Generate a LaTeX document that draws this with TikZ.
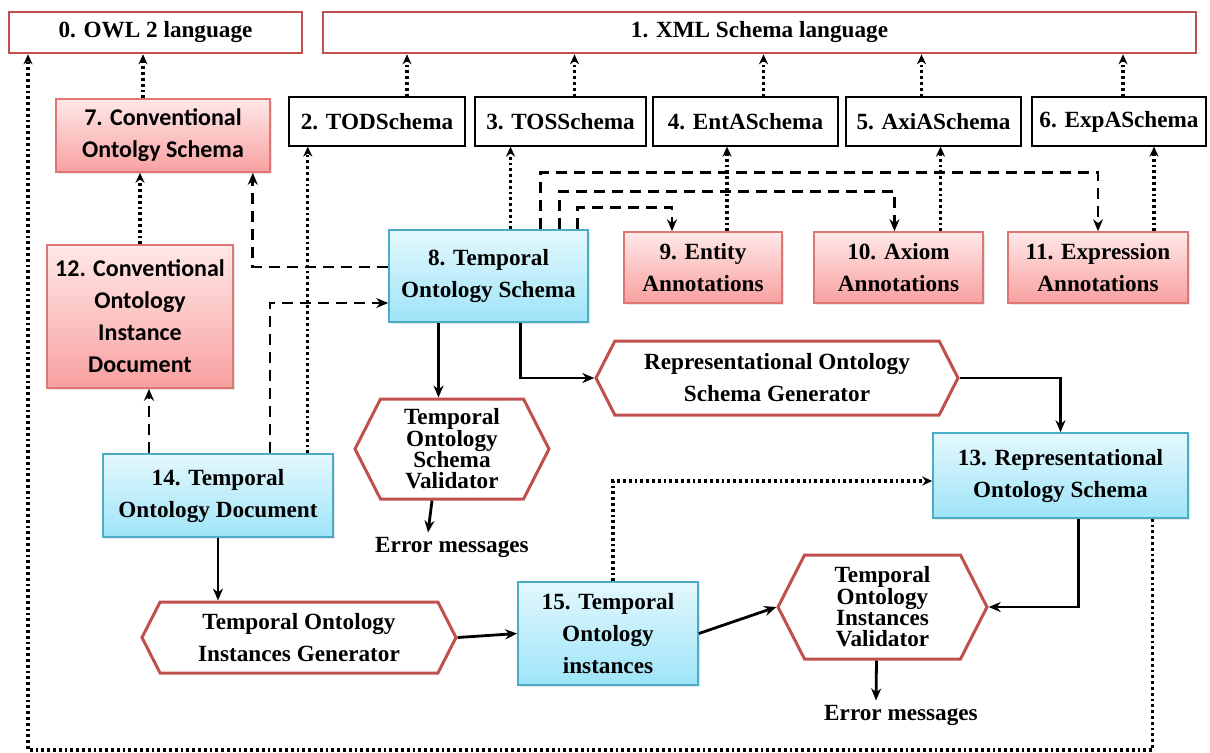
\documentclass[tikz,border=0pt]{standalone}
\usepackage{fontspec}
\setmainfont{Liberation Serif}
\newfontfamily\calibfont{Carlito}
\usetikzlibrary{arrows.meta,shapes.symbols,shadows}

\definecolor{owlred}{RGB}{192,80,77}
\definecolor{pinkline}{RGB}{222,118,116}
\definecolor{pinktop}{RGB}{255,232,232}
\definecolor{pinkbot}{RGB}{248,160,160}
\definecolor{bluetop}{RGB}{228,248,253}
\definecolor{bluebot}{RGB}{158,228,248}
\definecolor{blueline}{RGB}{75,172,198}

\begin{document}
\begin{tikzpicture}[x=0.5pt, y=-0.5pt,
  every node/.style = {font=\fontsize{11.6}{16}\selectfont\bfseries, align=center, inner sep=2pt},
  langbox/.style = {draw=owlred, line width=1.3pt, fill=white, minimum height=20.5pt},
  xsdbox/.style = {draw=black, line width=0.6pt, fill=white, minimum height=24.5pt},
  pinkbox/.style = {draw=pinkline, line width=0.8pt, top color=pinktop, bottom color=pinkbot,
    drop shadow={opacity=0.2, shadow xshift=1.2pt, shadow yshift=-1.2pt}},
  bluebox/.style = {draw=blueline, line width=0.8pt, top color=bluetop, bottom color=bluebot,
    drop shadow={opacity=0.2, shadow xshift=1.2pt, shadow yshift=-1.2pt}},
  calib/.style = {font=\calibfont\fontsize{12}{16}\selectfont\bfseries},
  hexbox/.style = {signal, signal to=east and west, signal pointer angle=126,
    draw=owlred, line width=1.5pt, fill=white},
  dotarrow/.style = {dash pattern=on 1.4pt off 1.5pt, line width=1.6pt, -{Stealth[length=5pt,width=4.5pt]}},
  dasharrow/.style = {dash pattern=on 5.5pt off 3.5pt, line width=1.4pt, -{Stealth[length=6pt,width=5pt]}},
  solidarrow/.style = {line width=1.4pt, -{Stealth[length=6pt,width=5pt]}}]

\useasboundingbox (0,0) rectangle (1210,752);

% languages
\node[langbox, minimum width=146.5pt] (b0) at (155.5,32.5) {0. OWL 2 language};
\node[langbox, minimum width=436.5pt] (b1) at (759.5,32.5) {1. XML Schema language};

% schemas
\node[xsdbox, minimum width=88pt] (b2) at (377,121.5) {2. TODSchema};
\node[xsdbox, minimum width=85.5pt] (b3) at (560.5,121.5) {3. TOSSchema};
\node[xsdbox, minimum width=92.5pt] (b4) at (745.5,121.5) {4. EntASchema};
\node[xsdbox, minimum width=87.5pt] (b5) at (933.5,121.5) {5. AxiASchema};
\node[xsdbox, minimum width=87pt] (b6) at (1119,121.5) {6. ExpASchema};

% documents
\node[pinkbox, calib, minimum width=107pt, minimum height=36.5pt] (b7) at (163,135.5)
  {7. Conventional\\Ontolgy Schema};
\node[pinkbox, calib, minimum width=93pt, minimum height=71.5pt] (b12) at (140,316.5)
  {12. Conventional\\Ontology\\Instance\\Document};
\node[bluebox, minimum width=99.5pt, minimum height=46pt] (b8) at (488.5,276)
  {8. Temporal\\Ontology Schema};
\node[pinkbox, minimum width=79pt, minimum height=35.5pt] (b9) at (703,267.5)
  {9. Entity\\Annotations};
\node[pinkbox, minimum width=84.5pt, minimum height=35.5pt] (b10) at (898.5,267.5)
  {10. Axiom\\Annotations};
\node[pinkbox, minimum width=90pt, minimum height=35.5pt] (b11) at (1098,267.5)
  {11. Expression\\Annotations};
\node[bluebox, minimum width=127.5pt, minimum height=42.5pt] (b13) at (1060.5,475.5)
  {13. Representational\\Ontology Schema};
\node[bluebox, minimum width=115pt, minimum height=41.5pt] (b14) at (218,495.5)
  {14. Temporal\\Ontology Document};
\node[bluebox, minimum width=90pt, minimum height=51.5pt] (b15) at (608,633.5)
  {15. Temporal\\Ontology\\instances};

% tools
\node[hexbox, minimum width=181pt, minimum height=37pt] (genR) at (777,378)
  {Representational Ontology\\Schema Generator};
\node[hexbox, minimum width=97pt, minimum height=50pt, font=\fontsize{11.6}{10.7}\selectfont\bfseries] (vS) at (452,449)
  {Temporal\\Ontology\\Schema\\Validator};
\node[hexbox, minimum width=157pt, minimum height=35.5pt] (genT) at (299,637.5)
  {Temporal Ontology\\Instances Generator};
\node[hexbox, minimum width=104.5pt, minimum height=52pt, font=\fontsize{11.6}{10.7}\selectfont\bfseries] (vI) at (882.5,607)
  {Temporal\\Ontology\\Instances\\Validator};
\node (errS) at (452,547) {Error messages};
\node (errI) at (901,715) {Error messages};
\coordinate (loopend) at (28,750);

% conforms-to links
\draw[dotarrow] ([xshift=-10pt]b7.north) -- ([xshift=-10pt]b7.north |- b0.south);
\draw[dotarrow] ([xshift=15pt]b2.north) -- ([xshift=15pt]b2.north |- b1.south);
\draw[dotarrow] ([xshift=7pt]b3.north) -- ([xshift=7pt]b3.north |- b1.south);
\draw[dotarrow] ([xshift=9pt]b4.north) -- ([xshift=9pt]b4.north |- b1.south);
\draw[dotarrow] ([xshift=-6pt]b5.north) -- ([xshift=-6pt]b5.north |- b1.south);
\draw[dotarrow] ([xshift=2pt]b6.north) -- ([xshift=2pt]b6.north |- b1.south);
\draw[dotarrow] (b12.north) -- (b12.north |- b7.south);
\draw[dotarrow] ([xshift=-13pt]b14.north east) -- ([xshift=-13pt]b14.north east |- b2.south);
\draw[dotarrow] ([xshift=11pt]b8.north) -- ([xshift=11pt]b8.north |- b3.south);
\draw[dotarrow] ([xshift=12pt]b9.north) -- ([xshift=12pt]b9.north |- b4.south);
\draw[dotarrow] ([xshift=21pt]b10.north) -- ([xshift=21pt]b10.north |- b5.south);
\draw[dotarrow] ([xshift=28pt]b11.north) -- ([xshift=28pt]b11.north |- b6.south);
\draw[dotarrow] ([xshift=2.5pt]b15.north) |- ([yshift=-2.75pt]b13.west);
\draw[dotarrow] ([xshift=-18pt]b13.south east) |- (loopend) -- (loopend |- b0.south);

% mappings and annotations
\draw[dasharrow] ([yshift=4.5pt]b8.west) -| ([xshift=-9pt]b7.south east);
\draw[dasharrow] ([xshift=26pt]b14.north) |- ([yshift=-13.5pt]b8.west);
\draw[dasharrow] ([xshift=-34.5pt]b14.north) -- ([xshift=-34.5pt]b14.north |- b12.south);
\draw[dasharrow] ([xshift=-5.5pt]b8.north east) -- ++(0,-22) -| ([xshift=-15.5pt]b9.north);
\draw[dasharrow] ([xshift=-14.5pt]b8.north east) -- ++(0,-38) -| ([xshift=-2pt]b10.north);
\draw[dasharrow] ([xshift=-24pt]b8.north east) -- ++(0,-57) -| (b11.north);

% generation and validation flow
\draw[solidarrow] ([xshift=-25pt]b8.south) -- ([xshift=-25pt]b8.south |- vS.north);
\draw[solidarrow] ([xshift=16pt]b8.south) |- (genR.west);
\draw[solidarrow] (genR.east) -| (b13.north);
\draw[solidarrow] ([xshift=-10pt]vS.south) -- ([xshift=-12pt]errS.north);
\draw[solidarrow] (b14.south) -- (b14.south |- genT.north);
\draw[solidarrow] (genT.east) -- (b15.west);
\draw[solidarrow] (b15.east) -- (vI.west);
\draw[solidarrow] ([xshift=9pt]b13.south) |- (vI.east);
\draw[solidarrow] ([xshift=-3pt]vI.south) -- ([xshift=-12.5pt]errI.north);
\end{tikzpicture}
\end{document}
